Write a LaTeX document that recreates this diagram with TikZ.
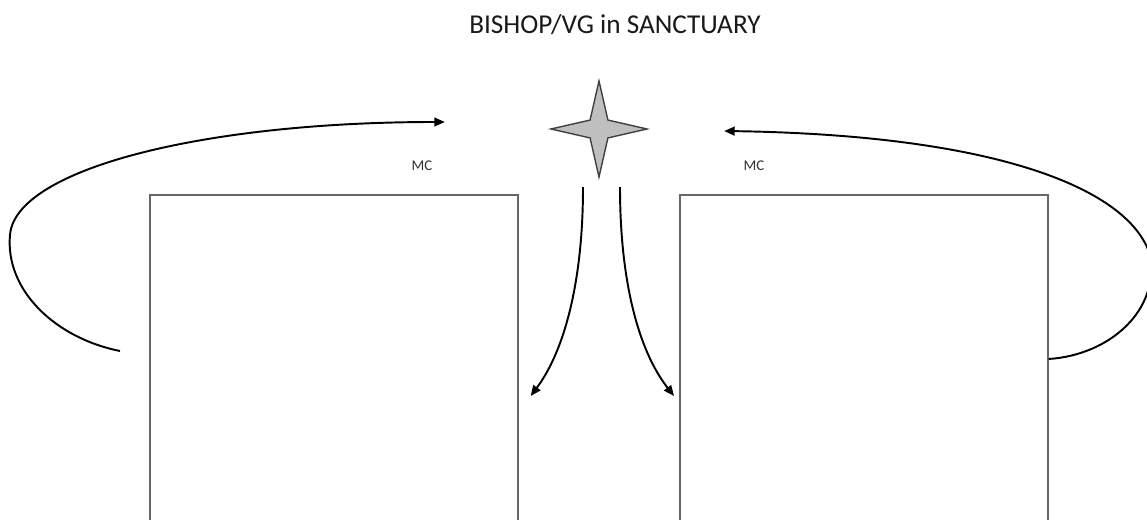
\documentclass[tikz,border=0pt]{standalone}
\usepackage{fontspec}
\setmainfont{Carlito}
\usetikzlibrary{shapes.geometric,arrows.meta,calc}

\begin{document}
\begin{tikzpicture}[x=0.02cm, y=-0.02cm,
  room/.style={draw=black!60, line width=1pt, rectangle, anchor=north west,
    minimum width=7.36cm, minimum height=8cm, inner sep=0pt},
  cross/.style={star, star points=4, star point ratio=3.8, minimum size=1.92cm,
    inner sep=0pt, draw=black!75, fill=black!25, line width=0.8pt},
  flow/.style={line width=1.1pt, -{Triangle[length=6pt,width=5pt]}},
  lbl/.style={font=\fontsize{8.5}{10}\selectfont, text=black!80}
]
\useasboundingbox (0,0) rectangle (1147,520);
\clip (0,0) rectangle (1147,520);

\node[font=\fontsize{15.5}{18}\selectfont, text=black!90] (title) at (615,25) {BISHOP/VG in SANCTUARY};
\node[cross] (star) at (599,129) {};
\node[lbl] (mcL) at (422,166) {MC};
\node[lbl] (mcR) at (754,166) {MC};

\node[room] (boxL) at (149,194) {};
\node[room] (boxR) at (679,194) {};

% loops round the outside
\coordinate (loopLa) at ($(boxL.north west)+(-29,157)$);
\coordinate (loopLb) at ($(star.west)+(-103,-7)$);
\coordinate (loopRa) at ($(boxR.north east)+(0,165)$);
\coordinate (loopRb) at ($(star.east)+(74,2)$);
\draw[flow] (loopLa) .. controls (55,338) and (5,290) .. (10,235)
  .. controls (15,170) and (200,122) .. (loopLb);
\draw[flow] (loopRa) .. controls (1110,355) and (1160,310) .. (1150,255)
  .. controls (1130,190) and (1000,135) .. (loopRb);

% from the star down to the boxes
\coordinate (downLa) at ($(star.south)+(-16,7)$);
\coordinate (downLb) at ($(boxL.north east)+(12,202)$);
\coordinate (downRa) at ($(star.south)+(21,7)$);
\coordinate (downRb) at ($(boxR.north west)+(-5,202)$);
\draw[flow] (downLa) .. controls (583,280) and (565,350) .. (downLb);
\draw[flow] (downRa) .. controls (620,280) and (638,350) .. (downRb);
\end{tikzpicture}
\end{document}
